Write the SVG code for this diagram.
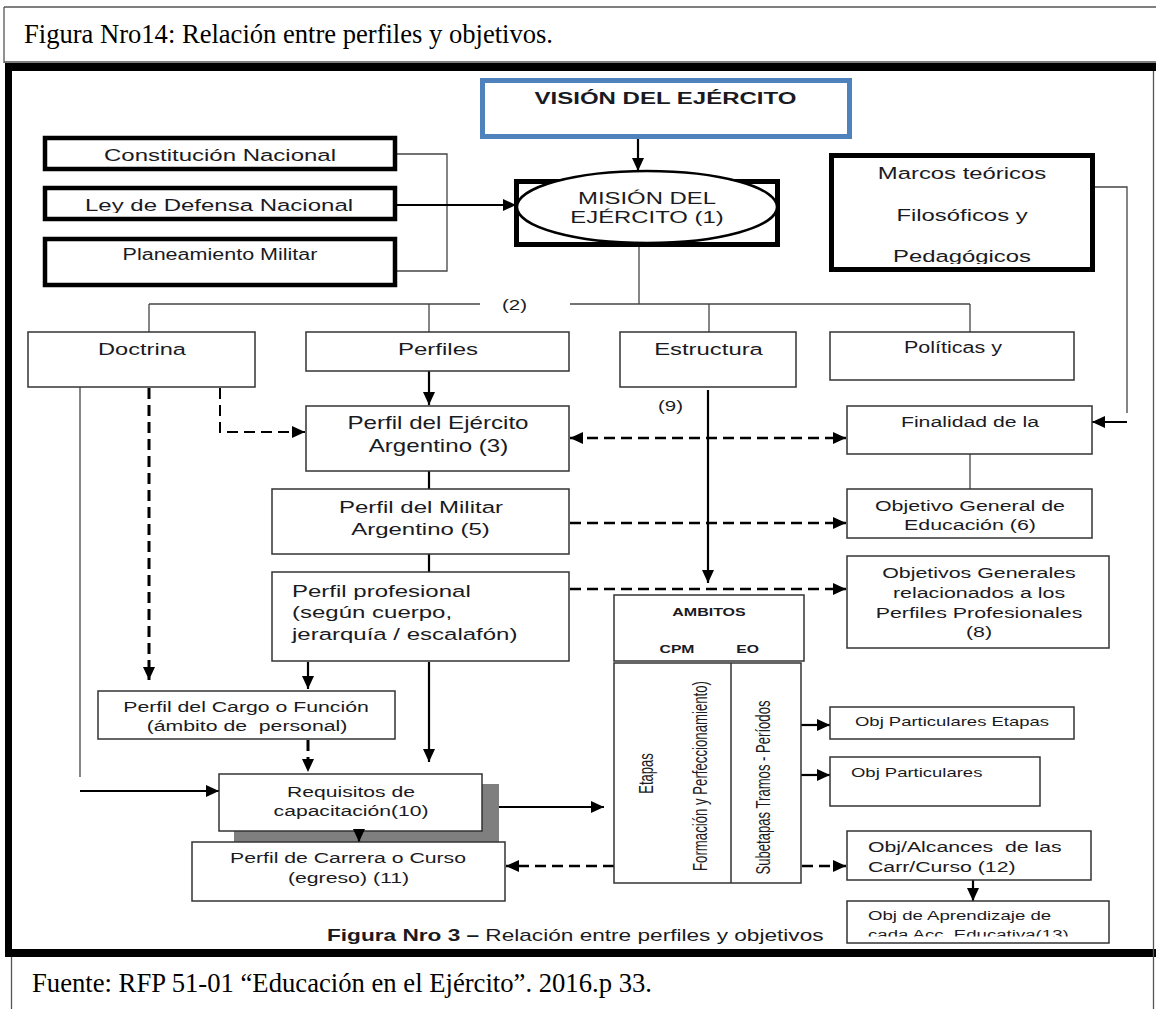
<svg xmlns="http://www.w3.org/2000/svg" width="1156" height="1009" viewBox="0 0 1156 1009">
<style>
.t{font-family:"Liberation Sans",Arial,sans-serif;fill:#1a1a22}
.b{font-weight:bold}
.serif{font-family:"Liberation Serif","Times New Roman",serif;font-size:26.5px;fill:#000}
.box{fill:#fff;stroke:#333;stroke-width:1.5}
.thick{fill:#fff;stroke:#000;stroke-width:4.5}
.ln{stroke:#444;stroke-width:1.3;fill:none}
.ar{stroke:#000;stroke-width:2.2;fill:none}
.da{stroke:#000;stroke-width:2.4;stroke-dasharray:11 6;fill:none}
.frame{stroke:#555;stroke-width:1.3;fill:none}
</style>
<defs>
<marker id="ah" markerUnits="userSpaceOnUse" markerWidth="13" markerHeight="12" refX="13" refY="6" orient="auto-start-reverse">
<path d="M0,0 L13,6 L0,12 z" fill="#000"/>
</marker>
<clipPath id="cLey"><rect x="47" y="190" width="346" height="23"/></clipPath>
<clipPath id="cPed"><rect x="834" y="158" width="256" height="106"/></clipPath>
<clipPath id="cEdu"><rect x="848" y="490" width="243" height="44"/></clipPath>
<clipPath id="cAmb"><rect x="99" y="692" width="295" height="43"/></clipPath>
<clipPath id="cCarr"><rect x="848" y="832" width="242" height="43.5"/></clipPath>
<clipPath id="cCada"><rect x="848" y="902" width="260" height="34.5"/></clipPath>
</defs>

<g id="frame">
<line class="frame" x1="4" y1="7" x2="1156" y2="7"/>
<line class="frame" x1="4" y1="7" x2="4" y2="63"/>
<line class="frame" x1="4" y1="62" x2="1156" y2="62"/>
<rect x="5" y="63" width="1151" height="8" fill="#000"/>
<rect x="5" y="63" width="7" height="894" fill="#000"/>
<rect x="5" y="949" width="1151" height="8" fill="#000"/>
<line class="frame" x1="1153.5" y1="71" x2="1153.5" y2="1009"/>
<line class="frame" x1="11.5" y1="957" x2="11.5" y2="1009"/>
<text class="serif" x="24" y="43" textLength="529" lengthAdjust="spacingAndGlyphs">Figura Nro14: Relación entre perfiles y objetivos.</text>
<text class="serif" x="32" y="992" textLength="620" lengthAdjust="spacingAndGlyphs">Fuente: RFP 51-01 “Educación en el Ejército”. 2016.p 33.</text>
<text class="t" font-size="16.4" transform="translate(327,941) scale(1.38,1)"><tspan class="b">Figura Nro 3 – </tspan>Relación entre perfiles y objetivos</text>
</g>

<g id="connectors">
<line class="ar" x1="638" y1="139" x2="638" y2="171" marker-end="url(#ah)"/>
<polyline class="ln" points="397,154 447,154 447,271 397,271"/>
<line class="ar" x1="397" y1="205" x2="516" y2="205" marker-end="url(#ah)"/>
<line class="ln" x1="639" y1="247" x2="639" y2="304"/>
<line class="ln" x1="149" y1="304" x2="480" y2="304"/>
<line class="ln" x1="570" y1="304" x2="970" y2="304"/>
<line class="ln" x1="149" y1="304" x2="149" y2="332"/>
<line class="ln" x1="429" y1="304" x2="429" y2="332"/>
<line class="ln" x1="709" y1="304" x2="709" y2="332"/>
<line class="ln" x1="970" y1="304" x2="970" y2="332"/>
<line class="ar" x1="429" y1="371" x2="429" y2="405" marker-end="url(#ah)"/>
<line class="ar" x1="429" y1="471" x2="429" y2="489"/>
<line class="ar" x1="429" y1="554" x2="429" y2="572"/>
<polyline class="da" style="stroke-width:2" points="220,388 220,432 305,432" marker-end="url(#ah)"/>
<line class="da" style="stroke-width:3" x1="149" y1="388" x2="149" y2="680" marker-end="url(#ah)"/>
<line class="ln" x1="80" y1="387" x2="80" y2="777"/>
<line class="ar" style="stroke-width:1.8" x1="80" y1="791" x2="219" y2="791" marker-end="url(#ah)"/>
<line class="ar" x1="708" y1="390" x2="708" y2="583" marker-end="url(#ah)"/>
<line class="da" x1="570" y1="438" x2="846" y2="438" marker-start="url(#ah)" marker-end="url(#ah)"/>
<polyline class="ln" points="1095,187 1127,187 1127,413"/>
<line class="ar" x1="1127" y1="422" x2="1092" y2="422" marker-end="url(#ah)"/>
<line class="ln" x1="970" y1="454" x2="970" y2="489"/>
<line class="da" x1="570" y1="523" x2="846" y2="523" marker-end="url(#ah)"/>
<line class="da" x1="570" y1="589" x2="846" y2="589" marker-end="url(#ah)"/>
<line class="ar" x1="308" y1="662" x2="308" y2="689" marker-end="url(#ah)"/>
<line class="ar" x1="429" y1="662" x2="429" y2="762" marker-end="url(#ah)"/>
<line class="da" style="stroke-width:3" x1="308" y1="740" x2="308" y2="772" marker-end="url(#ah)"/>
<line class="ar" x1="482" y1="807" x2="604" y2="807" marker-end="url(#ah)"/>
<line class="ar" x1="801" y1="725" x2="830" y2="725" marker-end="url(#ah)"/>
<line class="ar" x1="801" y1="775" x2="830" y2="775" marker-end="url(#ah)"/>
<line class="da" x1="614" y1="866" x2="506" y2="866" marker-end="url(#ah)"/>
<line class="da" x1="802" y1="866" x2="846" y2="866" marker-end="url(#ah)"/>
<line class="ar" x1="973" y1="880" x2="973" y2="901" marker-end="url(#ah)"/>
</g>

<g id="vision">
<rect x="482.5" y="80.5" width="367" height="56" fill="#fff" stroke="#4f81bd" stroke-width="5"/>
<text class="t b" font-size="17.4" text-anchor="middle" transform="translate(665.5,104) scale(1.38,1)">VISIÓN DEL EJÉRCITO</text>
</g>

<g id="mision">
<rect class="thick" x="516.5" y="181.5" width="261" height="63" style="stroke-width:5"/>
<ellipse cx="647" cy="207" rx="130" ry="36" fill="#fff" stroke="#000" stroke-width="2.5"/>
<text class="t" font-size="17.3" text-anchor="middle" transform="translate(647,204) scale(1.38,1)">MISIÓN DEL</text>
<text class="t" font-size="17.3" text-anchor="middle" transform="translate(647,223) scale(1.38,1)">EJÉRCITO (1)</text>
</g>

<g id="constitucion">
<rect class="thick" x="45" y="138" width="350" height="31"/>
<text class="t" font-size="17.4" text-anchor="middle" transform="translate(220,161) scale(1.38,1)">Constitución Nacional</text>
</g>

<g id="ley">
<rect class="thick" x="45" y="188" width="350" height="31"/>
<g clip-path="url(#cLey)">
<text class="t" font-size="17.4" text-anchor="middle" transform="translate(219,211) scale(1.38,1)">Ley de Defensa Nacional</text>
</g>
</g>

<g id="planeamiento">
<rect class="thick" x="45" y="239" width="350" height="46"/>
<text class="t" font-size="15.6" text-anchor="middle" transform="translate(220,260) scale(1.38,1)">Planeamiento Militar</text>
</g>

<g id="marcos">
<rect class="thick" x="831.5" y="155.5" width="261" height="114" style="stroke-width:5"/>
<text class="t" font-size="17.3" text-anchor="middle" transform="translate(962,179) scale(1.38,1)">Marcos teóricos</text>
<text class="t" font-size="17.3" text-anchor="middle" transform="translate(962,221) scale(1.38,1)">Filosóficos y</text>
<g clip-path="url(#cPed)">
<text class="t" font-size="17.3" text-anchor="middle" transform="translate(962,262) scale(1.38,1)">Pedagógicos</text>
</g>
</g>

<g id="label2">
<text class="t" font-size="14.8" text-anchor="middle" transform="translate(514.5,310) scale(1.38,1)">(2)</text>
</g>

<g id="doctrina">
<rect class="box" x="28" y="332" width="227" height="55"/>
<text class="t" font-size="17.1" text-anchor="middle" transform="translate(142,355) scale(1.38,1)">Doctrina</text>
</g>

<g id="perfiles">
<rect class="box" x="306" y="332" width="263" height="39"/>
<text class="t" font-size="17.4" text-anchor="middle" transform="translate(438,355) scale(1.38,1)">Perfiles</text>
</g>

<g id="estructura">
<rect class="box" x="620" y="332" width="176" height="55"/>
<text class="t" font-size="17.3" text-anchor="middle" transform="translate(708.5,355) scale(1.38,1)">Estructura</text>
</g>

<g id="politicas">
<rect class="box" x="830" y="332" width="244" height="48"/>
<text class="t" font-size="15.6" text-anchor="middle" transform="translate(953,353) scale(1.38,1)">Políticas y</text>
</g>

<g id="label9">
<text class="t" font-size="14.8" text-anchor="middle" transform="translate(670.5,411) scale(1.38,1)">(9)</text>
</g>

<g id="perfil-ejercito">
<rect class="box" x="306" y="406" width="263" height="65"/>
<text class="t" font-size="17.5" text-anchor="middle" transform="translate(438,429) scale(1.38,1)">Perfil del Ejército</text>
<text class="t" font-size="17.5" text-anchor="middle" transform="translate(438.5,452) scale(1.38,1)">Argentino (3)</text>
</g>

<g id="finalidad">
<rect class="box" x="847" y="406" width="245" height="48"/>
<text class="t" font-size="15.4" text-anchor="middle" transform="translate(970,427) scale(1.38,1)">Finalidad de la</text>
</g>

<g id="perfil-militar">
<rect class="box" x="272" y="489" width="297" height="65"/>
<text class="t" font-size="17.4" text-anchor="middle" transform="translate(421,513) scale(1.38,1)">Perfil del Militar</text>
<text class="t" font-size="17.4" text-anchor="middle" transform="translate(420.5,535) scale(1.38,1)">Argentino (5)</text>
</g>

<g id="objetivo-general">
<rect class="box" x="847" y="489" width="245" height="49"/>
<text class="t" font-size="15.5" text-anchor="middle" transform="translate(970,511) scale(1.38,1)">Objetivo General de</text>
<g clip-path="url(#cEdu)">
<text class="t" font-size="15.5" text-anchor="middle" transform="translate(970,530) scale(1.38,1)">Educación (6)</text>
</g>
</g>

<g id="perfil-profesional">
<rect class="box" x="272" y="572" width="297" height="89"/>
<text class="t" font-size="17.4" transform="translate(292,597) scale(1.38,1)">Perfil profesional</text>
<text class="t" font-size="17.4" transform="translate(292,618) scale(1.38,1)">(según cuerpo,</text>
<text class="t" font-size="17.4" transform="translate(292,640) scale(1.38,1)">jerarquía / escalafón)</text>
</g>

<g id="objetivos-generales">
<rect class="box" x="847" y="556" width="262" height="92"/>
<text class="t" font-size="15.5" text-anchor="middle" transform="translate(979,578) scale(1.38,1)">Objetivos Generales</text>
<text class="t" font-size="15.5" text-anchor="middle" transform="translate(979,598) scale(1.38,1)">relacionados a los</text>
<text class="t" font-size="15.5" text-anchor="middle" transform="translate(979,618) scale(1.38,1)">Perfiles Profesionales</text>
<text class="t" font-size="15.5" text-anchor="middle" transform="translate(979,637) scale(1.38,1)">(8)</text>
</g>

<g id="ambitos">
<rect class="box" x="614" y="595" width="190" height="66"/>
<text class="t b" font-size="11.6" text-anchor="middle" transform="translate(709,616) scale(1.38,1)">AMBITOS</text>
<text class="t b" font-size="11.4" text-anchor="middle" transform="translate(677,653) scale(1.38,1)">CPM</text>
<text class="t b" font-size="11.4" text-anchor="middle" transform="translate(747.5,653) scale(1.38,1)">EO</text>
</g>

<g id="etapas">
<rect class="box" x="614" y="663" width="187" height="220"/>
<line x1="731" y1="663" x2="731" y2="883" stroke="#333" stroke-width="1.5"/>
<text class="t" font-size="13" text-anchor="middle" transform="translate(653,773.5) rotate(-90) scale(1,1.6)">Etapas</text>
<text class="t" font-size="13.2" text-anchor="middle" transform="translate(707,776) rotate(-90) scale(1,1.6)">Formación y Perfeccionamiento)</text>
<text class="t" font-size="13.1" text-anchor="middle" transform="translate(770,787.5) rotate(-90) scale(1,1.6)">Subetapas Tramos - Períodos</text>
</g>

<g id="obj-part-etapas">
<rect class="box" x="830" y="707" width="244" height="32"/>
<text class="t" font-size="13.4" text-anchor="middle" transform="translate(952,726) scale(1.38,1)">Obj Particulares Etapas</text>
</g>

<g id="obj-part">
<rect class="box" x="830" y="757" width="210" height="49"/>
<text class="t" font-size="13.4" transform="translate(851,777) scale(1.38,1)">Obj Particulares</text>
</g>

<g id="obj-alcances">
<rect class="box" x="847" y="831" width="244" height="49"/>
<text class="t" font-size="15.4" xml:space="preserve" transform="translate(868,852) scale(1.38,1)">Obj/Alcances  de las</text>
<g clip-path="url(#cCarr)">
<text class="t" font-size="15.4" transform="translate(868,872) scale(1.38,1)">Carr/Curso (12)</text>
</g>
</g>

<g id="obj-aprendizaje">
<rect class="box" x="847" y="901" width="262" height="42"/>
<text class="t" font-size="13.5" transform="translate(868,920) scale(1.38,1)">Obj de Aprendizaje de</text>
<g clip-path="url(#cCada)">
<text class="t" font-size="13.5" transform="translate(868,939) scale(1.38,1)">cada Acc. Educativa(13)</text>
</g>
</g>

<g id="perfil-cargo">
<rect class="box" x="98" y="691" width="297" height="48"/>
<text class="t" font-size="15.4" text-anchor="middle" transform="translate(246,712) scale(1.38,1)">Perfil del Cargo o Función</text>
<g clip-path="url(#cAmb)">
<text class="t" font-size="15.4" text-anchor="middle" xml:space="preserve" transform="translate(247,731) scale(1.38,1)">(ámbito de  personal)</text>
</g>
</g>

<g id="requisitos">
<rect x="234" y="784" width="265" height="58" fill="#7f7f7f"/>
<rect class="box" x="219" y="774" width="263" height="57"/>
<text class="t" font-size="15.3" text-anchor="middle" transform="translate(351,797) scale(1.38,1)">Requisitos de</text>
<text class="t" font-size="15.3" text-anchor="middle" transform="translate(351,816) scale(1.38,1)">capacitación(10)</text>
<line class="ar" x1="359" y1="831" x2="359" y2="842" marker-end="url(#ah)"/>
</g>

<g id="perfil-carrera">
<rect class="box" x="192" y="842" width="313" height="59"/>
<text class="t" font-size="15.4" text-anchor="middle" transform="translate(348,863) scale(1.38,1)">Perfil de Carrera o Curso</text>
<text class="t" font-size="15.4" text-anchor="middle" transform="translate(348.5,883) scale(1.38,1)">(egreso) (11)</text>
</g>
</svg>
